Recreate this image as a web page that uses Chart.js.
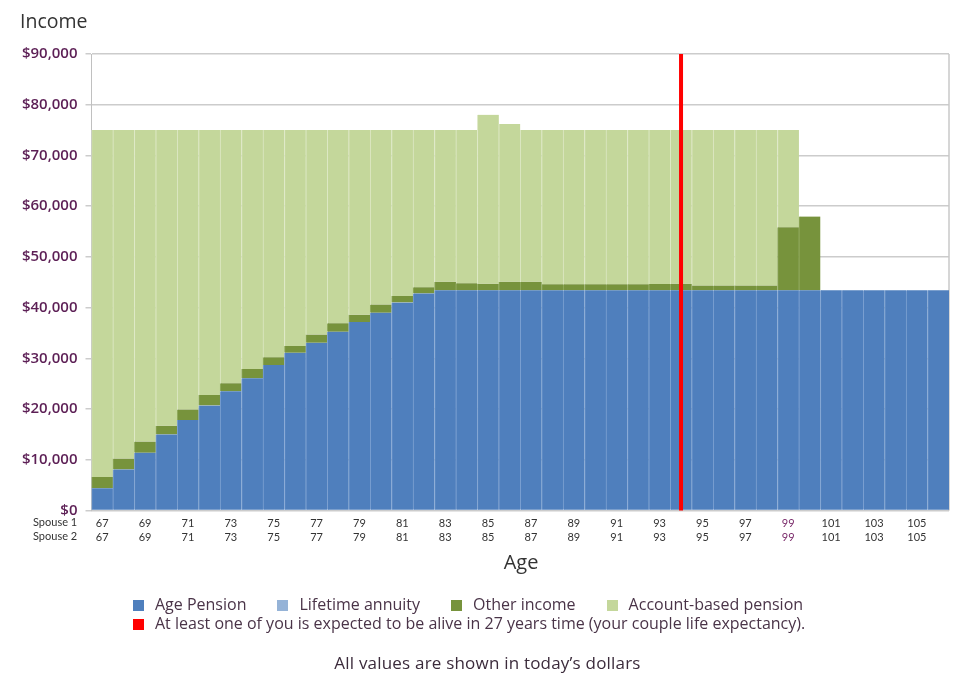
<!DOCTYPE html>
<html>
<head>
<meta charset="utf-8">
<script src="https://cdn.jsdelivr.net/npm/chart.js@4.4.1/dist/chart.umd.min.js"></script>
<style>
  html, body { margin: 0; padding: 0; background: #fff; }
  body { width: 958px; height: 682px; position: relative; overflow: hidden; font-family: "Open Sans", Lato, sans-serif; }
  canvas { position: absolute; left: 0; top: 0; }
  .txt { position: absolute; white-space: nowrap; }
  #title { left: 20px; top: 7px; font-size: 19.5px; color: #333; }
  #axisX { left: 0; width: 1042px; top: 548px; text-align: center; font-size: 20px; color: #333; }
  .spouse { left: 33px; font-family: Lato, sans-serif; font-size: 11px; color: #333; }
  #legend { left: 133px; top: 595px; font-size: 16px; color: #4a3448; line-height: 19px; }
  #legend .item { display: inline-block; margin-right: 31px; }
  #legend .sw { display: inline-block; width: 11px; height: 11px; margin-right: 11px; vertical-align: -1px; }
  #footer { left: 0; width: 975px; top: 651px; text-align: center; font-size: 17px; letter-spacing: 0.2px; color: #3b2b3b; }
</style>
</head>
<body>
<canvas id="chart" width="958" height="682"></canvas>
<div class="txt" id="title">Income</div>
<div class="txt spouse" style="top:515px">Spouse 1</div>
<div class="txt spouse" style="top:529px">Spouse 2</div>
<div class="txt" id="axisX">Age</div>
<div class="txt" id="legend"></div>
<div class="txt" id="footer">All values are shown in today’s dollars</div>
<script>
const ages = [67, 68, 69, 70, 71, 72, 73, 74, 75, 76, 77, 78, 79, 80, 81, 82, 83, 84, 85, 86,
  87, 88, 89, 90, 91, 92, 93, 94, 95, 96, 97, 98, 99, 100, 101, 102, 103, 104, 105, 106];

const agePension = [4400, 8100, 11400, 15000, 17850, 20700, 23500, 26050, 28700, 31100,
  33050, 35250, 37150, 39000, 41000, 42800, 43400, 43400, 43400, 43400,
  43400, 43400, 43400, 43400, 43400, 43400, 43400, 43400, 43400, 43400,
  43400, 43400, 43400, 43400, 43400, 43400, 43400, 43400, 43400, 43400];

const lifetimeAnnuity = [0, 0, 0, 0, 0, 0, 0, 0, 0, 0, 0, 0, 0, 0, 0, 0, 0, 0, 0, 0,
  0, 0, 0, 0, 0, 0, 0, 0, 0, 0, 0, 0, 0, 0, 0, 0, 0, 0, 0, 0];

const otherIncome = [2200, 2150, 2200, 1700, 2050, 2050, 1600, 1850, 1500, 1350,
  1650, 1650, 1450, 1600, 1300, 1200, 1700, 1400, 1300, 1700,
  1700, 1200, 1200, 1200, 1200, 1200, 1250, 1300, 950, 950,
  950, 950, 12450, 14550, 0, 0, 0, 0, 0, 0];

const accountBased = [68400, 64750, 61400, 58300, 55100, 52250, 49900, 47100, 44800, 42550,
  40300, 38100, 36400, 34400, 32700, 31000, 29900, 30200, 33300, 31100,
  29900, 30400, 30400, 30400, 30400, 30400, 30350, 30300, 30650, 30650,
  30650, 30650, 19150, 0, 0, 0, 0, 0, 0, 0];

const yTicks = [0, 10000, 20000, 30000, 40000, 50000, 60000, 70000, 80000, 90000];
const lifeExpectancyAge = 94;

const legendItems = [
  { label: "Age Pension", color: "#4f7fbd" },
  { label: "Lifetime annuity", color: "#95b3d7" },
  { label: "Other income", color: "#77933c" },
  { label: "Account-based pension", color: "#c4d79b" },
];
const redLabel = "At least one of you is expected to be alive in 27 years time (your couple life expectancy).";

// html legend, two rows like the original
const legendEl = document.getElementById("legend");
legendEl.innerHTML =
  legendItems.map((it) =>
    `<span class="item"><span class="sw" style="background:${it.color}"></span>${it.label}</span>`).join("") +
  `<br><span class="item"><span class="sw" style="background:#ff0000"></span>${redLabel}</span>`;

function barSet(label, data, fill, edge) {
  return {
    label,
    data,
    backgroundColor: fill,
    borderColor: edge,
    borderWidth: { left: 1, right: 0, top: 0, bottom: 0 },
    borderSkipped: false,
    barPercentage: 1,
    categoryPercentage: 1,
  };
}

const frameAndMarker = {
  id: "frameAndMarker",
  beforeDatasetsDraw(chart) {
    const { ctx, chartArea } = chart;
    ctx.save();
    ctx.strokeStyle = "#c8c8c8";
    ctx.lineWidth = 1.5;
    ctx.beginPath();
    ctx.moveTo(chartArea.right, chartArea.top);
    ctx.lineTo(chartArea.right, chartArea.bottom);
    ctx.stroke();
    ctx.restore();
  },
  afterDatasetsDraw(chart) {
    const { ctx, chartArea, scales } = chart;
    const x = scales.x.getPixelForValue(ages.indexOf(lifeExpectancyAge));
    ctx.save();
    ctx.strokeStyle = "#ff0000";
    ctx.lineWidth = 4;
    ctx.beginPath();
    ctx.moveTo(x, chartArea.top);
    ctx.lineTo(x, chartArea.bottom);
    ctx.stroke();
    ctx.restore();
  },
};

new Chart(document.getElementById("chart"), {
  type: "bar",
  data: {
    labels: ages.map(String),
    datasets: [
      barSet("Age Pension", agePension, "#4f7fbd", "#7ea2d2"),
      barSet("Lifetime annuity", lifetimeAnnuity, "#95b3d7", "#b5cae4"),
      barSet("Other income", otherIncome, "#77933c", "#93ad60"),
      barSet("Account-based pension", accountBased, "#c4d79b", "#dde8c4"),
    ],
  },
  options: {
    responsive: false,
    animation: false,
    devicePixelRatio: 1,
    layout: { padding: { left: 0, right: 9, top: 54, bottom: 131.5 } },
    plugins: { legend: { display: false }, tooltip: { enabled: false } },
    scales: {
      x: {
        stacked: true,
        grid: { display: false },
        border: { display: false },
        afterFit(scale) { scale.height = 40; },
        ticks: {
          autoSkip: false,
          maxRotation: 0,
          padding: -2,
          font: { family: "Lato", size: 11, lineHeight: 1.27 },
          color(ctx) { return ages[ctx.index] === 99 ? "#7a2a6a" : "#333"; },
          callback(v, i) {
            const a = ages[i];
            return a % 2 === 1 ? [String(a), String(a)] : "";
          },
        },
      },
      y: {
        stacked: true,
        min: 0,
        max: 90000,
        afterFit(scale) { scale.width = 91.5; },
        afterBuildTicks(scale) { scale.ticks = yTicks.map((v) => ({ value: v })); },
        grid: { color: "#cccccc", lineWidth: 1.5, tickLength: 6 },
        border: { display: true, color: "#c0c0c0", width: 1 },
        ticks: {
          padding: 8,
          color: "#5c1f55",
          font: { family: "Open Sans", size: 15, weight: "600" },
          callback(v) { return "$" + v.toLocaleString("en-US"); },
        },
      },
    },
  },
  plugins: [frameAndMarker],
});
</script>
</body>
</html>
